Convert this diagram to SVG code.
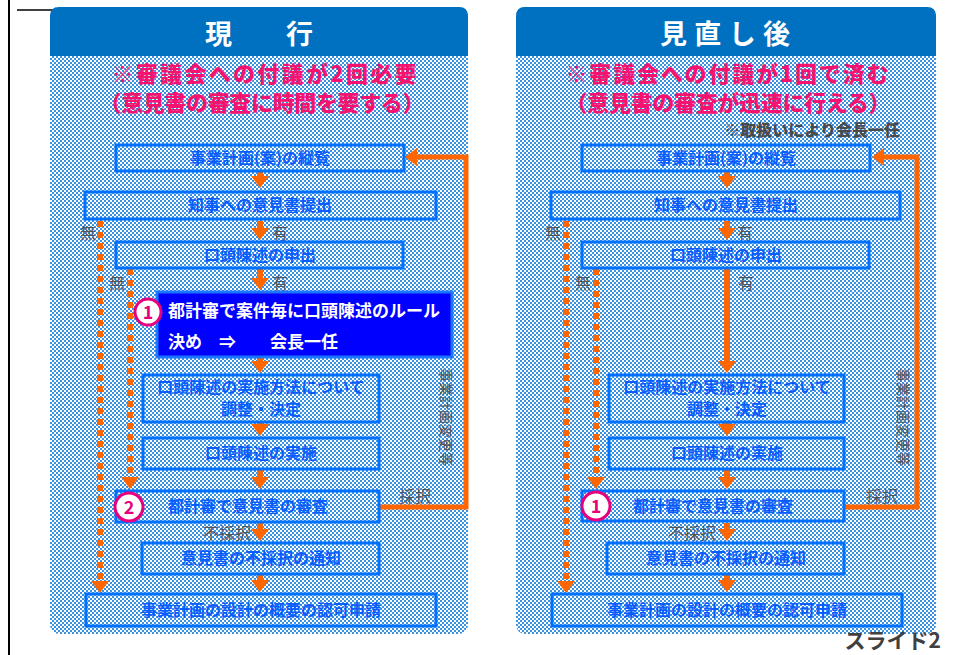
<svg xmlns="http://www.w3.org/2000/svg" width="955" height="655" viewBox="0 0 955 655">
<defs>
<pattern id="chk" width="4" height="4" patternUnits="userSpaceOnUse">
<rect width="4" height="4" fill="#ffffff"/>
<rect x="0" y="0" width="2" height="2" fill="#3a92e2"/>
<rect x="2" y="2" width="2" height="2" fill="#3a92e2"/>
</pattern>
<marker id="ah" markerUnits="userSpaceOnUse" markerWidth="12" markerHeight="18" viewBox="0 0 12 18" refX="0" refY="9" orient="auto">
<path d="M0,0 L12,9 L0,18 Z" fill="#ff6600"/>
</marker>
</defs>
<style>
text{font-family:"Noto Sans CJK JP","Noto Sans CJK SC",sans-serif}
.box{fill:none;stroke:#0070ff;stroke-width:3}
.bt{font-weight:bold;font-size:16px;fill:#0a5cff;text-anchor:middle}
.hd{font-weight:bold;font-size:27px;fill:#ffffff;text-anchor:middle}
.pk{font-weight:900;font-size:22px;fill:#f5136f;text-anchor:middle}
.lbl{font-size:16px;fill:#555555}
.vt{font-size:14px;fill:#505050;text-anchor:middle}
.flow{stroke:#ff6600;stroke-width:6;fill:none;marker-end:url(#ah)}
.dot{stroke:#ff6600;stroke-width:6;fill:none;stroke-dasharray:6 5;marker-end:url(#ah)}
.ret{stroke:#ff6600;stroke-width:5;fill:none;marker-end:url(#ah)}
.cir{fill:#ffffff;stroke:#e6007e;stroke-width:3}
.cn{font-weight:bold;font-size:18px;fill:#e6007e;text-anchor:middle}
.wt{font-weight:bold;font-size:17px;fill:#ffffff}
</style>

<g id="frame">
<line x1="9" y1="0" x2="9" y2="655" stroke="#000" stroke-width="2"/>
<line x1="17" y1="10" x2="303" y2="10" stroke="#404040" stroke-width="2"/>
</g>

<g id="left-panel">
<rect x="50" y="7" width="418" height="627" rx="9" fill="url(#chk)"/>
<path d="M50,56 V16 Q50,7 59,7 H459 Q468,7 468,16 V56 Z" fill="#0070c0"/>
<text class="hd" x="259" y="44">現　　行</text>
<text class="pk" x="264" y="82" textLength="305" lengthAdjust="spacing">※審議会への付議が2回必要</text>
<text class="pk" x="262" y="111" textLength="325" lengthAdjust="spacing">（意見書の審査に時間を要する）</text>
</g>

<g id="right-panel">
<rect x="516" y="7" width="420" height="627" rx="9" fill="url(#chk)"/>
<path d="M516,56 V16 Q516,7 525,7 H927 Q936,7 936,16 V56 Z" fill="#0070c0"/>
<text class="hd" x="725" y="44" textLength="130" lengthAdjust="spacing">見直し後</text>
<text class="pk" x="727" y="82" textLength="323" lengthAdjust="spacing">※審議会への付議が1回で済む</text>
<text class="pk" x="728" y="111" textLength="325" lengthAdjust="spacing">（意見書の審査が迅速に行える）</text>
<text x="900" y="136" font-size="16" font-weight="900" fill="#4a4a4a" text-anchor="end">※取扱いにより会長一任</text>
<rect x="638" y="292" width="264" height="66" fill="none" stroke="#6fa8ff" stroke-width="1" stroke-dasharray="1 2" opacity="0.6"/>
</g>

<g id="connectors">
<line class="flow" x1="260" y1="172" x2="260" y2="176"/>
<line class="flow" x1="260" y1="221" x2="260" y2="228"/>
<line class="flow" x1="260" y1="269" x2="260" y2="278"/>
<line class="flow" x1="260" y1="358" x2="260" y2="361"/>
<line class="flow" x1="260" y1="423" x2="260" y2="424"/>
<line class="flow" x1="260" y1="470" x2="260" y2="477"/>
<line class="flow" x1="260" y1="523" x2="260" y2="529"/>
<line class="flow" x1="260" y1="575" x2="260" y2="580"/>
<line class="dot" x1="100" y1="221" x2="100" y2="581"/>
<line class="dot" x1="130" y1="269" x2="130" y2="477"/>
<path class="ret" d="M379,507 H466 V157 H417"/>
<line class="flow" x1="727" y1="172" x2="727" y2="176"/>
<line class="flow" x1="727" y1="221" x2="727" y2="228"/>
<line class="flow" x1="727" y1="269" x2="727" y2="361"/>
<line class="flow" x1="727" y1="423" x2="727" y2="424"/>
<line class="flow" x1="727" y1="470" x2="727" y2="477"/>
<line class="flow" x1="727" y1="523" x2="727" y2="529"/>
<line class="flow" x1="727" y1="575" x2="727" y2="580"/>
<line class="dot" x1="566" y1="221" x2="566" y2="581"/>
<line class="dot" x1="596" y1="269" x2="596" y2="477"/>
<path class="ret" d="M844,507 H917 V157 H884"/>
<text class="lbl" x="80" y="239">無</text>
<text class="lbl" x="272" y="239">有</text>
<text class="lbl" x="109" y="289">無</text>
<text class="lbl" x="272" y="289">有</text>
<text class="lbl" x="399" y="502">採択</text>
<text class="lbl" x="203" y="539">不採択</text>
<text class="vt" transform="translate(447,417) rotate(90)" dominant-baseline="central">事業計画変更等</text>
<text class="lbl" x="545" y="239">無</text>
<text class="lbl" x="737" y="239">有</text>
<text class="lbl" x="575" y="289">無</text>
<text class="lbl" x="738" y="289">有</text>
<text class="lbl" x="866" y="502">採択</text>
<text class="lbl" x="668" y="539">不採択</text>
<text class="vt" transform="translate(904,417) rotate(90)" dominant-baseline="central">事業計画変更等</text>
</g>

<g id="L1"><rect class="box" x="116" y="145" width="288" height="26"/><text class="bt" x="260" y="164">事業計画(案)の縦覧</text></g>
<g id="L2"><rect class="box" x="85" y="192" width="351" height="27"/><text class="bt" x="260" y="211">知事への意見書提出</text></g>
<g id="L3"><rect class="box" x="116" y="242" width="287" height="26"/><text class="bt" x="260" y="261">口頭陳述の申出</text></g>
<g id="L4">
<rect x="157" y="292" width="295" height="65" fill="#0000ff" stroke="#1a75ff" stroke-width="3"/>
<text class="wt" x="168" y="317">都計審で案件毎に口頭陳述のルール</text>
<text class="wt" x="168" y="348">決め　⇒　　会長一任</text>
<circle class="cir" cx="148" cy="312" r="13"/><text class="cn" x="148" y="318.5">1</text>
</g>
<g id="L5"><rect class="box" x="143" y="375" width="236" height="47"/><text class="bt" x="261" y="393" font-size="15">口頭陳述の実施方法について</text><text class="bt" x="261" y="415" font-size="15">調整・決定</text></g>
<g id="L6"><rect class="box" x="143" y="438" width="236" height="31"/><text class="bt" x="261" y="459">口頭陳述の実施</text></g>
<g id="L7">
<rect class="box" x="116" y="491" width="263" height="31"/><text class="bt" x="248" y="512">都計審で意見書の審査</text>
<circle class="cir" cx="129" cy="507" r="14"/><text class="cn" x="129" y="513.5">2</text>
</g>
<g id="L8"><rect class="box" x="142" y="543" width="237" height="31"/><text class="bt" x="261" y="564">意見書の不採択の通知</text></g>
<g id="L9"><rect class="box" x="86" y="594" width="350" height="32"/><text class="bt" x="261" y="616">事業計画の設計の概要の認可申請</text></g>

<g id="R1"><rect class="box" x="582" y="145" width="288" height="26"/><text class="bt" x="726" y="164">事業計画(案)の縦覧</text></g>
<g id="R2"><rect class="box" x="551" y="192" width="349" height="27"/><text class="bt" x="726" y="211">知事への意見書提出</text></g>
<g id="R3"><rect class="box" x="582" y="242" width="287" height="26"/><text class="bt" x="726" y="261">口頭陳述の申出</text></g>
<g id="R5"><rect class="box" x="609" y="375" width="235" height="47"/><text class="bt" x="727" y="393" font-size="15">口頭陳述の実施方法について</text><text class="bt" x="727" y="415" font-size="15">調整・決定</text></g>
<g id="R6"><rect class="box" x="609" y="438" width="235" height="31"/><text class="bt" x="727" y="459">口頭陳述の実施</text></g>
<g id="R7">
<rect class="box" x="582" y="491" width="262" height="30"/><text class="bt" x="713" y="512">都計審で意見書の審査</text>
<circle class="cir" cx="596" cy="506" r="14"/><text class="cn" x="596" y="512.5">1</text>
</g>
<g id="R8"><rect class="box" x="607" y="543" width="237" height="31"/><text class="bt" x="726" y="564">意見書の不採択の通知</text></g>
<g id="R9"><rect class="box" x="552" y="594" width="350" height="32"/><text class="bt" x="727" y="616">事業計画の設計の概要の認可申請</text></g>

<text x="941" y="648" font-size="21" font-weight="bold" fill="#404040" text-anchor="end">スライド2</text>
</svg>
